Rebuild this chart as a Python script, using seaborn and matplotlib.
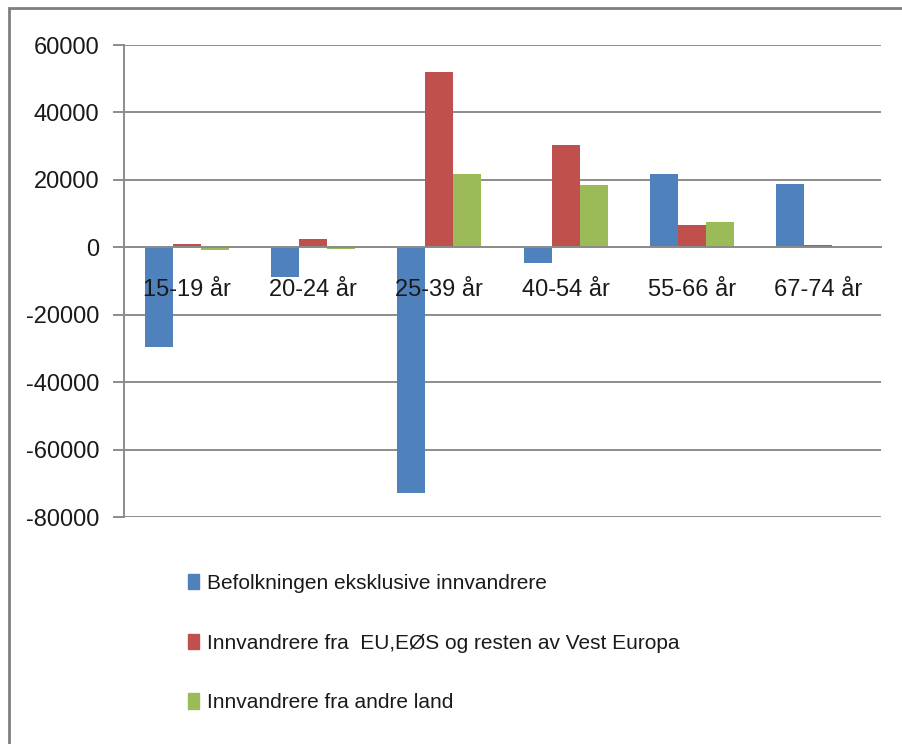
import matplotlib
matplotlib.use("Agg")
import matplotlib.pyplot as plt
import matplotlib.patches as mpatches
from matplotlib.ticker import FixedLocator, MultipleLocator
import pandas as pd
import seaborn as sns

# data
age_groups = ["15-19 år", "20-24 år", "25-39 år", "40-54 år", "55-66 år", "67-74 år"]
series_names = [
    "Befolkningen eksklusive innvandrere",
    "Innvandrere fra  EU,EØS og resten av Vest Europa",
    "Innvandrere fra andre land",
]
befolkning = [-29700, -8700, -72800, -4800, 21600, 18800]
eu_eos = [1100, 2600, 52000, 30400, 6600, 600]
andre_land = [-700, -600, 21600, 18400, 7600, 500]
colors = ["#4F81BD", "#C0504D", "#9BBB59"]

rows = []
for name, vals in zip(series_names, [befolkning, eu_eos, andre_land]):
    for g, v in zip(age_groups, vals):
        rows.append({"alder": g, "serie": name, "verdi": v})
df = pd.DataFrame(rows)

sns.set_style("white")
plt.rcParams["font.family"] = ["Liberation Sans", "DejaVu Sans"]
plt.rcParams["axes.unicode_minus"] = False
plt.rcParams["text.color"] = "#1a1a1a"
plt.rcParams["xtick.labelcolor"] = "#1a1a1a"
plt.rcParams["ytick.labelcolor"] = "#1a1a1a"

fig = plt.figure(figsize=(9.02, 7.44), dpi=100)
ax = fig.add_axes([124 / 902, 1 - 517 / 744, (881 - 124) / 902, (517 - 45) / 744])

sns.barplot(data=df, x="alder", y="verdi", hue="serie", palette=colors,
            width=0.667, gap=0, saturation=1, linewidth=0, ax=ax, legend=False,
            zorder=2)

ax.set_ylim(-80000, 60000)
ax.set_xlim(-0.5, len(age_groups) - 0.5)
ax.yaxis.set_major_locator(MultipleLocator(20000))
ax.set_xlabel("")
ax.set_ylabel("")

grid_c = "#8c8c8c"
# gridlines behind the bars, axis (and category labels) above them
ax.hlines(ax.get_yticks(), -0.5, len(age_groups) - 0.5, color=grid_c, linewidth=1.4, zorder=1)
ax.set_axisbelow(False)
for s in ["top", "right"]:
    ax.spines[s].set_visible(False)
ax.spines["left"].set_color(grid_c)
ax.spines["left"].set_linewidth(1.4)
ax.spines["bottom"].set_position(("data", 0))
ax.spines["bottom"].set_color(grid_c)
ax.spines["bottom"].set_linewidth(1.4)

# category ticks between groups, labels centred under each group
ax.xaxis.set_major_locator(FixedLocator([i - 0.5 for i in range(len(age_groups) + 1)]))
ax.xaxis.set_minor_locator(FixedLocator(range(len(age_groups))))
ax.set_xticklabels([], minor=False)
ax.set_xticklabels(age_groups, minor=True)
ax.tick_params(axis="x", which="major", length=8, width=1.4, color=grid_c, direction="out")
ax.tick_params(axis="x", which="minor", length=0, pad=23, labelsize=17, labelcolor="#1a1a1a")
ax.tick_params(axis="y", length=8, width=1.4, color=grid_c, direction="out", left=True,
               pad=10, labelsize=17, labelcolor="#1a1a1a")

handles = [mpatches.Patch(color=c) for c in colors]
ax.legend(handles, series_names, loc="upper left", bbox_to_anchor=(188 / 902, 1 - 574 / 744),
          bbox_transform=fig.transFigure, frameon=False, fontsize=15,
          handlelength=0.55, handleheight=0.75, handletextpad=0.35, labelspacing=1.95,
          borderaxespad=0, borderpad=0)

# outer chart border like the Excel chart area
fig.add_artist(mpatches.Rectangle((9 / 902, -0.1), 1.5, 1.1 - 8 / 744, transform=fig.transFigure,
                                  fill=False, edgecolor="#7f7f7f", linewidth=2))

fig.savefig("out.png", dpi=100)
